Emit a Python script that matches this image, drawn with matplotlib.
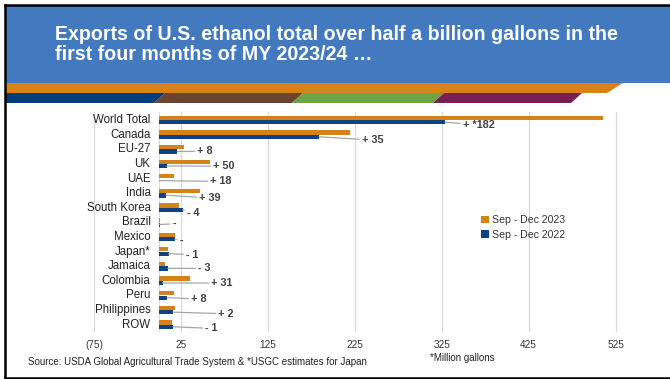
import matplotlib
matplotlib.use("Agg")
import matplotlib.pyplot as plt
from matplotlib.patches import Polygon
from matplotlib.lines import Line2D
import numpy as np

plt.rcParams['font.family'] = ['Liberation Sans', 'DejaVu Sans']

# ---------------- data ----------------
categories = ["World Total", "Canada", "EU-27", "UK", "UAE", "India", "South Korea",
              "Brazil", "Mexico", "Japan*", "Jamaica", "Colombia", "Peru",
              "Philippines", "ROW"]
sep_dec_2023 = [511, 219, 29, 59, 17, 47, 23, 0.5, 18, 10, 7, 35, 17, 18, 15]
sep_dec_2022 = [329, 184, 21, 9, 0, 8, 27, 0.5, 18, 11, 10, 4, 9, 16, 16]
change_labels = ["+ *182", "+ 35", "+ 8", "+ 50", "+ 18", "+ 39", "- 4", "-", "-",
                 "- 1", "- 3", "+ 31", "+ 8", "+ 2", "- 1"]
tick_values = [-75, 25, 125, 225, 325, 425, 525]
tick_labels = ["(75)", "25", "125", "225", "325", "425", "525"]

# label placement (layout)
label_x = [349, 233, 44, 62, 59, 46, 32, 15, 23, 31, 45, 60, 37, 68, 53]
label_dy = [0.28, 0.32, 0.1, 0.1, 0.15, 0.28, 0.28, 0.05, 0.2, 0.15, 0.1, 0.1, 0.2, 0.2, 0.2]

C_ORANGE = "#D4821A"
C_BLUE = "#0E4284"

W, H = 670, 379
fig = plt.figure(figsize=(W / 100, H / 100), dpi=100)

def fx(px):
    return px / W

def fy(py):
    return 1 - py / H

def poly(pts, color):
    fig.patches.append(Polygon([(fx(x), fy(y)) for x, y in pts], closed=True,
                               transform=fig.transFigure, facecolor=color,
                               edgecolor='none', zorder=1))

# header
poly([(6, 6), (670, 6), (670, 83), (6, 83)], "#4279BF")
poly([(6, 83), (623, 83), (607, 93), (6, 93)], "#D58316")
segs = [(6, 165, "#003B7A"), (165, 303, "#6B4331"), (303, 444, "#6DA544"), (444, 582, "#7A1F55")]
for i, (a, b, col) in enumerate(segs):
    if i == 0:
        poly([(6, 93), (b, 93), (b - 11, 103), (6, 103)], col)
    else:
        poly([(a, 93), (b, 93), (b - 11, 103), (a - 11, 103)], col)

fig.text(fx(55), fy(34), "Exports of U.S. ethanol total over half a billion gallons in the",
         color="white", fontsize=14.1, fontweight="bold", va="center", ha="left")
fig.text(fx(55), fy(55), "first four months of MY 2023/24 \u2026",
         color="white", fontsize=14.1, fontweight="bold", va="center", ha="left")

# frame (left, top, bottom)
for xs, ys in [((5, 5), (5, 378)), ((5, 670), (5, 5)), ((5, 670), (377.5, 377.5))]:
    fig.lines.append(Line2D([fx(v) for v in xs], [fy(v) for v in ys], transform=fig.transFigure,
                            color="black", linewidth=1.8, zorder=6))

# ---------------- chart ----------------
ax = fig.add_axes([fx(94), fy(332), fx(646) - fx(94), fy(112) - fy(332)])
n = len(categories)
y = np.arange(n)
h = 0.29
ax.barh(y - h / 2 - 0.01, sep_dec_2023, height=h, color=C_ORANGE, zorder=3, label="Sep - Dec 2023")
ax.barh(y + h / 2 + 0.01, sep_dec_2022, height=h, color=C_BLUE, zorder=3, label="Sep - Dec 2022")

ax.set_xlim(-75, 560)
ax.set_ylim(n - 0.5, -0.55)
ax.set_xticks(tick_values)
ax.set_xticklabels(tick_labels, fontsize=7.2, color="#333333")
ax.tick_params(axis='x', length=0, pad=6)
ax.set_yticks([])
ax.grid(axis='x', color="#D9D9D9", linewidth=0.9, zorder=0)
ax.axvline(0, color="#D9D9D9", linewidth=0.8, zorder=1)
for s in ax.spines.values():
    s.set_visible(False)

for i, name in enumerate(categories):
    ax.text(-10, i, name, ha="right", va="center", fontsize=8.3, color="#222222")

for i in range(n):
    x0 = sep_dec_2022[i]
    y0 = i + h / 2
    tx = label_x[i]
    ty = i + label_dy[i] + 0.05
    ax.annotate(change_labels[i], xy=(x0, y0), xytext=(tx, ty),
                fontsize=7.8, fontweight="bold", color="#404040", ha="left", va="center",
                arrowprops=dict(arrowstyle="-", color="#A6A6A6", linewidth=0.9,
                                shrinkA=0, shrinkB=0), zorder=4)

leg = ax.legend(loc="upper left", bbox_to_anchor=((476 - 94) / (646 - 94), 1 - (210 - 112) / 220),
                frameon=False, fontsize=7.6, handlelength=0.7, handleheight=0.7,
                handletextpad=0.3, labelspacing=0.4, borderpad=0)
for t in leg.get_texts():
    t.set_color("#333333")

fig.text(fx(28), fy(362), "Source: USDA Global Agricultural Trade System & *USGC estimates for Japan",
         fontsize=7.0, color="#222222", va="center", ha="left")
fig.text(fx(430), fy(358), "*Million gallons", fontsize=7.0, color="#222222", va="center", ha="left")

fig.savefig("out.png", dpi=100)
